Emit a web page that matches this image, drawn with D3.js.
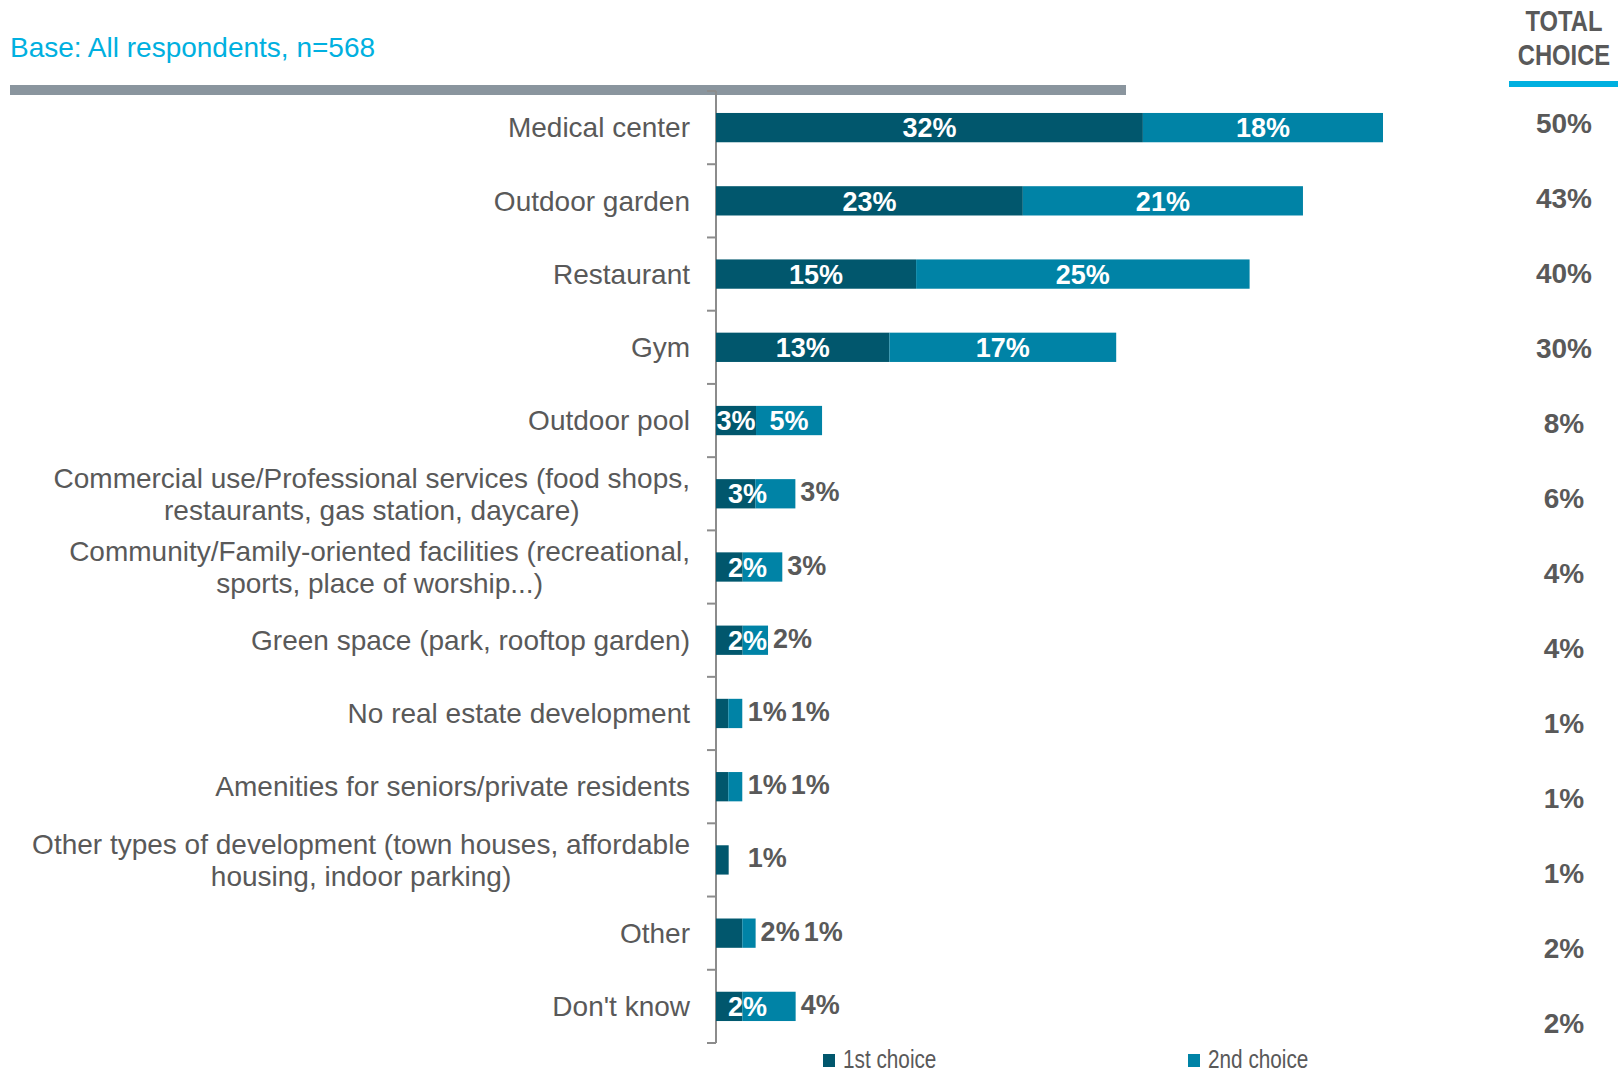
<!DOCTYPE html>
<html><head><meta charset="utf-8">
<script src="https://cdn.jsdelivr.net/npm/d3@7"></script>
<style>html,body{margin:0;padding:0;background:#fff;}svg{display:block;}</style>
</head><body>
<svg id="chart" width="1621" height="1073"></svg>
<script>
const categories = [
  "Medical center", "Outdoor garden", "Restaurant", "Gym", "Outdoor pool",
  "Commercial use/Professional services (food shops,\nrestaurants, gas station, daycare)",
  "Community/Family-oriented facilities (recreational,\nsports, place of worship...)",
  "Green space (park, rooftop garden)", "No real estate development",
  "Amenities for seniors/private residents",
  "Other types of development (town houses, affordable\nhousing, indoor parking)",
  "Other", "Don't know"
];
const firstChoice  = [32, 23, 15, 13, 3, 2.95, 2, 2, 0.92, 0.92, 0.95, 1.97, 1.97];
const secondChoice = [18, 21, 25, 17, 4.95, 3, 2.97, 1.9, 1.05, 1.05, 0, 1, 4];
const firstLabels  = [32, 23, 15, 13, 3, 3, 2, 2, 1, 1, 1, 2, 2];
const secondLabels = [18, 21, 25, 17, 5, 3, 3, 2, 1, 1, 0, 1, 4];
const totalChoice  = [50, 43, 40, 30, 8, 6, 4, 4, 1, 1, 1, 2, 2];
const seriesNames  = ["1st choice", "2nd choice"];
const headerLines  = ["TOTAL", "CHOICE"];

const C1 = "#01576d", C2 = "#0083a6", GREY = "#595959", CYAN = "#00b0e0";
const svg = d3.select("#chart");
const FONT = "'Liberation Sans', Arial, sans-serif";

const x = d3.scaleLinear().domain([0, 50]).range([716, 1383]);
const y = d3.scaleBand().domain(categories).range([91, 1043]).paddingInner(0.6).paddingOuter(0.3);
const yTot = d3.scaleBand().domain(categories).range([85.5, 1060.5]);

// header
svg.append("text").attr("x", 10).attr("y", 57).attr("font-family", FONT).attr("font-size", 28)
  .attr("fill", CYAN).text("Base: All respondents, n=568");
svg.append("rect").attr("x", 10).attr("y", 85).attr("width", 1116).attr("height", 10).attr("fill", "#8a959e");

headerLines.forEach((ln, k) => {
  svg.append("text").attr("transform", `translate(1564,${31 + k * 34}) scale(0.82,1)`)
    .attr("font-family", FONT).attr("font-weight", "bold").attr("font-size", 29)
    .attr("fill", GREY).attr("text-anchor", "middle").text(ln);
});
svg.append("rect").attr("x", 1509).attr("y", 81).attr("width", 109).attr("height", 6).attr("fill", CYAN);

// axis
const step = y.step(), pad = (step - y.bandwidth()) / 2;
const tickYs = categories.map(c => y(c) - pad).concat([y(categories[categories.length - 1]) + y.bandwidth() + pad]);
svg.append("g").selectAll("line").data(tickYs).join("line")
  .attr("x1", 707).attr("x2", 716).attr("y1", d => d).attr("y2", d => d)
  .attr("stroke", "#8c8c8c").attr("stroke-width", 2);
svg.append("line").attr("x1", 716).attr("x2", 716).attr("y1", tickYs[0]).attr("y2", tickYs[tickYs.length - 1])
  .attr("stroke", "#8c8c8c").attr("stroke-width", 2);

// bars
const rows = categories.map((c, i) => ({c, i, v1: firstChoice[i], v2: secondChoice[i]}));
const g = svg.append("g");
g.selectAll("rect.b1").data(rows).join("rect").attr("class", "b1")
  .attr("x", x(0)).attr("y", d => y(d.c)).attr("height", y.bandwidth())
  .attr("width", d => x(d.v1) - x(0)).attr("fill", C1);
g.selectAll("rect.b2").data(rows.filter(d => d.v2 > 0)).join("rect").attr("class", "b2")
  .attr("x", d => x(d.v1)).attr("y", d => y(d.c)).attr("height", y.bandwidth())
  .attr("width", d => x(d.v1 + d.v2) - x(d.v1)).attr("fill", C2);

// category labels
rows.forEach(d => {
  const lines = d.c.split("\n");
  const cy = y(d.c) + y.bandwidth() / 2;
  const t = svg.append("text").attr("font-family", FONT).attr("font-size", 28).attr("fill", GREY);
  const lh = 32;
  lines.forEach((ln, k) => {
    t.append("tspan").attr("y", cy + (k - (lines.length - 1) / 2) * lh).attr("dy", "0.35em").text(ln);
  });
  if (lines.length === 1) {
    t.attr("text-anchor", "end").selectAll("tspan").attr("x", 690);
  } else {
    let maxW = 0;
    t.selectAll("tspan").each(function () { maxW = Math.max(maxW, this.getComputedTextLength()); });
    t.attr("text-anchor", "middle").selectAll("tspan").attr("x", 690 - maxW / 2);
  }
});

// value labels
rows.forEach(d => {
  const cy = y(d.c) + y.bandwidth() / 2;
  const inside1 = d.v1 >= 1.5 && d.v2 >= 1.5;
  const inside2 = d.v2 >= 4.5;
  const outs = [];
  const mk = (txt, col) => svg.append("text").attr("font-family", FONT).attr("font-weight", "bold")
    .attr("font-size", 27).attr("fill", col).attr("y", cy).attr("dy", "0.36em").text(txt);
  if (inside1) {
    const t = mk(firstLabels[d.i] + "%", "#fff").attr("text-anchor", "middle");
    const w = t.node().getComputedTextLength();
    const segC = (x(0) + x(d.v1)) / 2;
    t.attr("x", d.v1 < 3 ? x(0) + w / 2 + 12 : segC);
  } else outs.push(firstLabels[d.i] + "%");
  if (d.v2 > 0) {
    if (inside2) {
      mk(secondLabels[d.i] + "%", "#fff").attr("text-anchor", "middle").attr("x", (x(d.v1) + x(d.v1 + d.v2)) / 2);
    } else outs.push(secondLabels[d.i] + "%");
  }
  let sx = Math.max(x(d.v1 + d.v2), x(2)) + 5;
  outs.forEach(txt => {
    const t = mk(txt, GREY).attr("text-anchor", "start").attr("x", sx).attr("dy", "0.28em");
    sx += t.node().getComputedTextLength() + 4;
  });
});

// totals
svg.append("g").selectAll("text").data(rows).join("text")
  .attr("x", 1564).attr("y", d => yTot(d.c) + yTot.bandwidth() / 2).attr("dy", "0.36em")
  .attr("text-anchor", "middle").attr("font-family", FONT).attr("font-weight", "bold")
  .attr("font-size", 28).attr("fill", GREY).text(d => totalChoice[d.i] + "%");

// legend
const legX = [823, 1188];
seriesNames.forEach((n, k) => {
  svg.append("rect").attr("x", legX[k]).attr("y", 1054).attr("width", 12).attr("height", 13)
    .attr("fill", k === 0 ? C1 : C2);
  svg.append("text").attr("transform", `translate(${legX[k] + 20},1067.5) scale(0.83,1)`)
    .attr("font-family", FONT).attr("font-size", 25).attr("fill", GREY).text(n);
});
</script>
</body></html>
